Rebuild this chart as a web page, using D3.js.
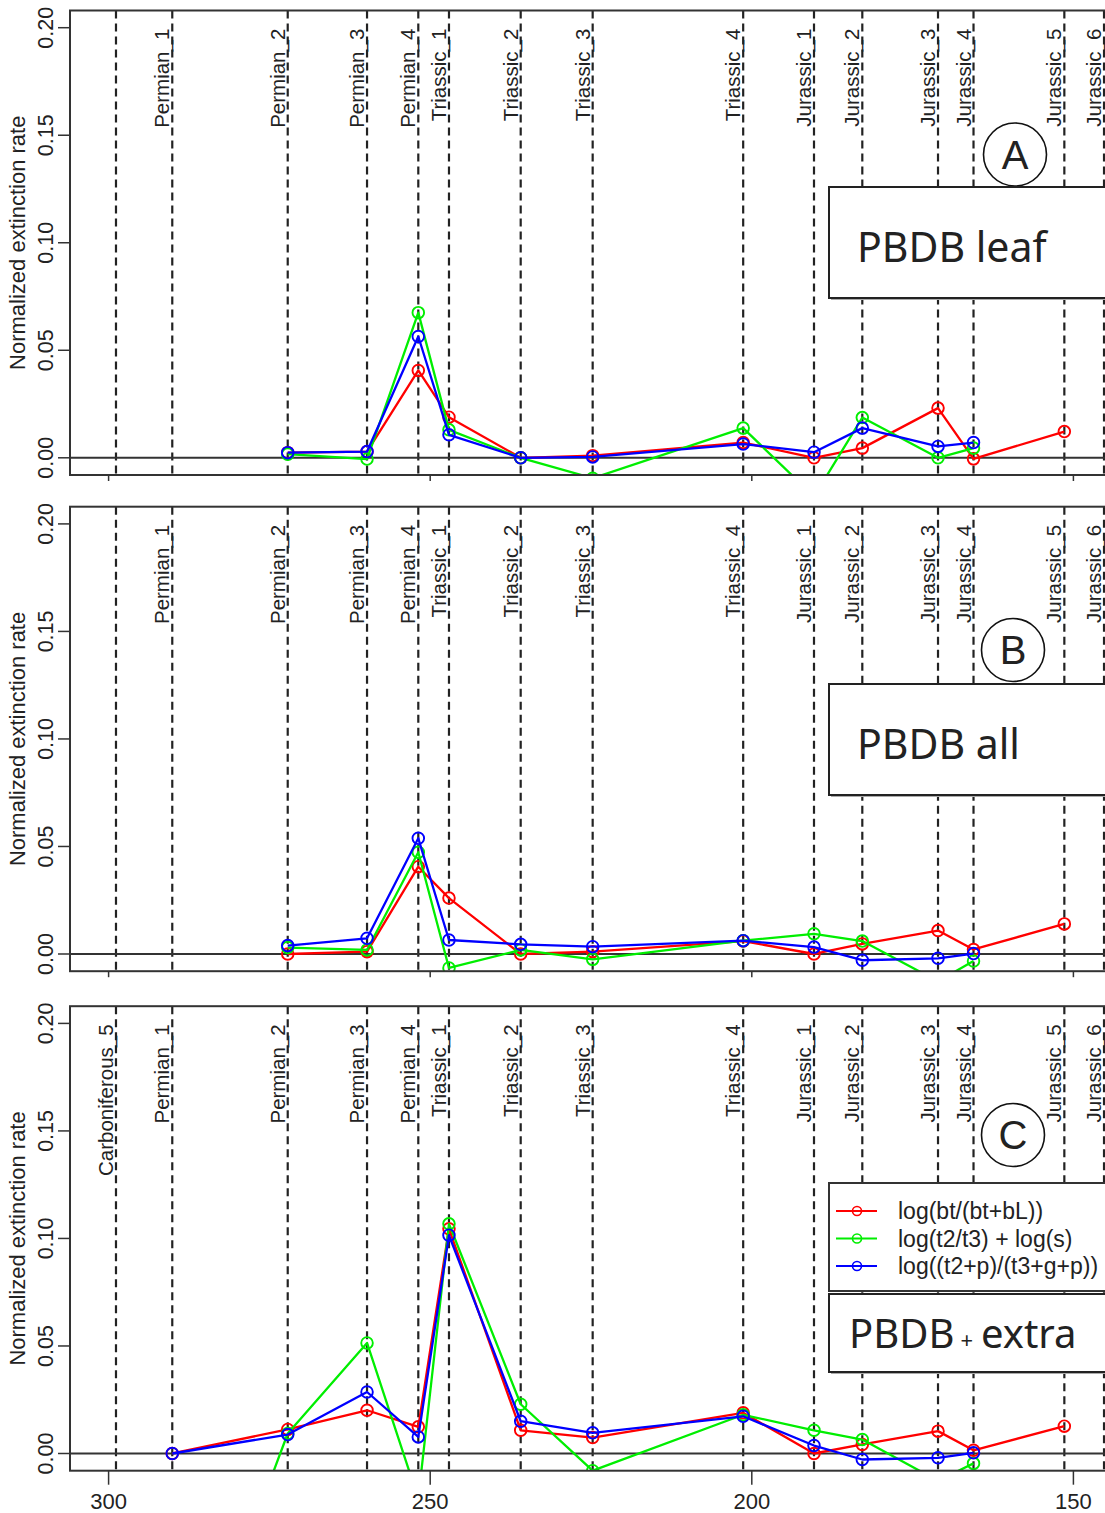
<!DOCTYPE html>
<html>
<head>
<meta charset="utf-8">
<script src="https://cdn.jsdelivr.net/npm/d3@7/dist/d3.min.js"></script>
<style>
  html, body { margin: 0; padding: 0; background: #fff; }
  svg { display: block; }
  text { font-family: "Liberation Sans", Arial, Helvetica, sans-serif; fill: #222; }
</style>
</head>
<body>
<svg id="chart" width="1105" height="1513"></svg>
<script>
// ---------------- data ----------------
const stageAges = [298.85, 290.10, 272.15, 259.82, 251.85, 247.08, 235.93, 224.74, 201.34, 190.33, 182.82, 171.05, 165.53, 151.41, 145.24];
const stageLabels = ["Carboniferous_5", "Permian_1", "Permian_2", "Permian_3", "Permian_4", "Triassic_1", "Triassic_2", "Triassic_3", "Triassic_4", "Jurassic_1", "Jurassic_2", "Jurassic_3", "Jurassic_4", "Jurassic_5", "Jurassic_6"];

// Panel A: PBDB leaf
const leafRed   = [null, null, 0.0024, 0.0029, 0.0406, 0.0189, 0.0000, 0.0010, 0.0071, 0.0000, 0.0045, 0.0231, -0.0005, 0.0122, null];
const leafGreen = [null, null, 0.0017, -0.0006, 0.0675, 0.0130, 0.0000, -0.0095, 0.0138, -0.0180, 0.0187, 0.0000, 0.0045, null, null];
const leafBlue  = [null, null, 0.0024, 0.0029, 0.0564, 0.0107, 0.0000, 0.0004, 0.0064, 0.0026, 0.0138, 0.0053, 0.0071, null, null];

// Panel B: PBDB all
const allRed   = [null, null, 0.0000, 0.0011, 0.0406, 0.0260, 0.0000, 0.0011, 0.0060, 0.0000, 0.0047, 0.0109, 0.0021, 0.0140, null];
const allGreen = [null, null, 0.0030, 0.0019, 0.0473, -0.0065, 0.0019, -0.0025, 0.0062, 0.0094, 0.0060, -0.0127, -0.0033, null, null];
const allBlue  = [null, null, 0.0039, 0.0073, 0.0538, 0.0065, 0.0045, 0.0034, 0.0062, 0.0032, -0.0029, -0.0020, 0.0002, null, null];

// Panel C: PBDB + extra
const extraRed   = [null, 0.0000, 0.0112, 0.0201, 0.0124, 0.1045, 0.0108, 0.0074, 0.0189, 0.0000, 0.0042, 0.0104, 0.0015, 0.0127, null];
const extraGreen = [null, -0.1340, 0.0093, 0.0514, -0.0210, 0.1068, 0.0229, -0.0080, 0.0180, 0.0108, 0.0065, -0.0127, -0.0046, null, null];
const extraBlue  = [null, 0.0000, 0.0088, 0.0286, 0.0077, 0.1015, 0.0150, 0.0096, 0.0173, 0.0037, -0.0028, -0.0020, 0.0003, null, null];

const yTicks = [0, 0.05, 0.10, 0.15, 0.20];
const yTickLabels = ["0.00", "0.05", "0.10", "0.15", "0.20"];
const xTicks = [300, 250, 200, 150];
const xTickLabels = ["300", "250", "200", "150"];

const seriesNames = ["log(bt/(bt+bL))", "log(t2/t3) + log(s)", "log((t2+p)/(t3+g+p))"];
const seriesColors = ["#ff0000", "#00ee00", "#0000ff"];
const yTitle = "Normalized extinction rate";

// ---------------- layout ----------------
const svg = d3.select("#chart");
const plotLeft = 70, plotRight = 1112, plotH = 464.5;
const x = d3.scaleLinear().domain([306, 144]).range([plotLeft, plotRight]);

const panels = [
  { id: "A", top: 10.5, data: [leafRed, leafGreen, leafBlue], firstLabel: 1, fullAxis: false,
    circle: [1015, 154.5], box: [829, 187, 111], title: "PBDB leaf", titleBase: 262 },
  { id: "B", top: 506.7, data: [allRed, allGreen, allBlue], firstLabel: 1, fullAxis: false,
    circle: [1013, 650], box: [829, 684, 111], title: "PBDB all", titleBase: 759 },
  { id: "C", top: 1006.2, data: [extraRed, extraGreen, extraBlue], firstLabel: 0, fullAxis: true,
    circle: [1013, 1135] }
];

panels.forEach((p, pi) => {
  const y = d3.scaleLinear().domain([-0.008, 0.208]).range([p.top + plotH, p.top]);
  const g = svg.append("g");
  const clipId = "clip" + p.id;
  svg.append("clipPath").attr("id", clipId)
    .append("rect").attr("x", plotLeft).attr("y", p.top).attr("width", plotRight - plotLeft).attr("height", plotH);

  const inner = g.append("g").attr("clip-path", `url(#${clipId})`);

  // vertical dashed stage lines
  inner.selectAll("line.stage").data(stageAges).enter().append("line")
    .attr("x1", d => x(d)).attr("x2", d => x(d))
    .attr("y1", p.top).attr("y2", p.top + plotH)
    .attr("stroke", "#222").attr("stroke-width", 2.2).attr("stroke-dasharray", "8,5");

  // zero line
  inner.append("line").attr("x1", plotLeft).attr("x2", plotRight)
    .attr("y1", y(0)).attr("y2", y(0)).attr("stroke", "#333").attr("stroke-width", 2);

  // stage labels
  stageLabels.forEach((lab, i) => {
    if (i < p.firstLabel) return;
    const lx = x(stageAges[i]) - 3, ly = y(0.2) + 1;
    g.append("text").attr("transform", `translate(${lx},${ly}) rotate(-90)`)
      .attr("text-anchor", "end").attr("font-size", 20.5).text(lab);
  });

  // series
  const line = d3.line().defined(d => d.v != null).x(d => x(d.a)).y(d => y(d.v));
  p.data.forEach((vals, si) => {
    const pts = vals.map((v, i) => ({ a: stageAges[i], v: v }));
    inner.append("path").datum(pts).attr("d", line)
      .attr("fill", "none").attr("stroke", seriesColors[si]).attr("stroke-width", 2.3)
      .attr("stroke-linejoin", "round");
    inner.selectAll(null).data(pts.filter(d => d.v != null)).enter().append("circle")
      .attr("cx", d => x(d.a)).attr("cy", d => y(d.v)).attr("r", 5.8)
      .attr("fill", "none").attr("stroke", seriesColors[si]).attr("stroke-width", 1.9);
  });

  // frame
  g.append("rect").attr("x", plotLeft).attr("y", p.top).attr("width", plotRight - plotLeft).attr("height", plotH)
    .attr("fill", "none").attr("stroke", "#333").attr("stroke-width", 2);

  // y axis
  yTicks.forEach((t, i) => {
    g.append("line").attr("x1", plotLeft - 12).attr("x2", plotLeft).attr("y1", y(t)).attr("y2", y(t))
      .attr("stroke", "#333").attr("stroke-width", 1.5);
    g.append("text").attr("transform", `translate(53,${y(t)}) rotate(-90)`)
      .attr("text-anchor", "middle").attr("font-size", 21.5).attr("fill", "#333").text(yTickLabels[i]);
  });
  g.append("text").attr("transform", `translate(25,${p.top + plotH / 2}) rotate(-90)`)
    .attr("text-anchor", "middle").attr("font-size", 22).attr("fill", "#333").text(yTitle);

  // x axis
  const bottom = p.top + plotH;
  xTicks.forEach((t, i) => {
    g.append("line").attr("x1", x(t)).attr("x2", x(t)).attr("y1", bottom)
      .attr("y2", bottom + (p.fullAxis ? 14 : 6)).attr("stroke", "#333").attr("stroke-width", 1.5);
    if (p.fullAxis) {
      g.append("text").attr("x", x(t)).attr("y", bottom + 38).attr("text-anchor", "middle")
        .attr("font-size", 22).attr("fill", "#333").text(xTickLabels[i]);
    }
  });

  // panel letter circle
  g.append("circle").attr("cx", p.circle[0]).attr("cy", p.circle[1]).attr("r", 31.5)
    .attr("fill", "#fff").attr("stroke", "#111").attr("stroke-width", 1.6);
  g.append("text").attr("x", p.circle[0]).attr("y", p.circle[1] + 14).attr("text-anchor", "middle")
    .attr("font-size", 40).attr("fill", "#111").text(p.id);

  // annotation box
  if (p.box) {
    const [bx, by, bh] = p.box;
    g.append("rect").attr("x", bx + 2).attr("y", by + 2).attr("width", 1105 - bx).attr("height", bh)
      .attr("fill", "#aaa");
    g.append("rect").attr("x", bx).attr("y", by).attr("width", 1105 - bx + 10).attr("height", bh)
      .attr("fill", "#fff").attr("stroke", "#222").attr("stroke-width", 2);
    g.append("text").attr("x", bx + 28).attr("y", p.titleBase).attr("font-size", 41)
      .attr("fill", "#111").style("font-family", "'Noto Sans', 'Open Sans', sans-serif").text(p.title);
  }

  if (p.id === "C") {
    // legend
    const lx = 829, ly = 1183, lh = 108;
    g.append("rect").attr("x", lx).attr("y", ly).attr("width", 1105 - lx + 10).attr("height", lh)
      .attr("fill", "#fff").attr("stroke", "#333").attr("stroke-width", 2);
    seriesNames.forEach((nm, i) => {
      const yy = 1211 + i * 27.5;
      g.append("line").attr("x1", 836).attr("x2", 877).attr("y1", yy).attr("y2", yy)
        .attr("stroke", seriesColors[i]).attr("stroke-width", 2);
      g.append("circle").attr("cx", 857).attr("cy", yy).attr("r", 4.5)
        .attr("fill", "none").attr("stroke", seriesColors[i]).attr("stroke-width", 1.6);
      g.append("text").attr("x", 898).attr("y", yy + 8).attr("font-size", 23).attr("fill", "#333").text(nm);
    });
    // PBDB + extra box
    const bx = 829, by = 1294, bh = 78;
    g.append("rect").attr("x", bx + 2).attr("y", by + 2).attr("width", 1105 - bx).attr("height", bh).attr("fill", "#aaa");
    g.append("rect").attr("x", bx).attr("y", by).attr("width", 1105 - bx + 10).attr("height", bh)
      .attr("fill", "#fff").attr("stroke", "#222").attr("stroke-width", 2);
    const t = g.append("text").attr("x", 849).attr("y", 1348).attr("fill", "#111")
      .style("font-family", "'Noto Sans', 'Open Sans', sans-serif");
    t.append("tspan").attr("font-size", 40).text("PBDB");
    t.append("tspan").attr("font-size", 22).attr("dx", 6).text("+");
    t.append("tspan").attr("font-size", 40).attr("dx", 8).text("extra");
  }
});
</script>
</body>
</html>
